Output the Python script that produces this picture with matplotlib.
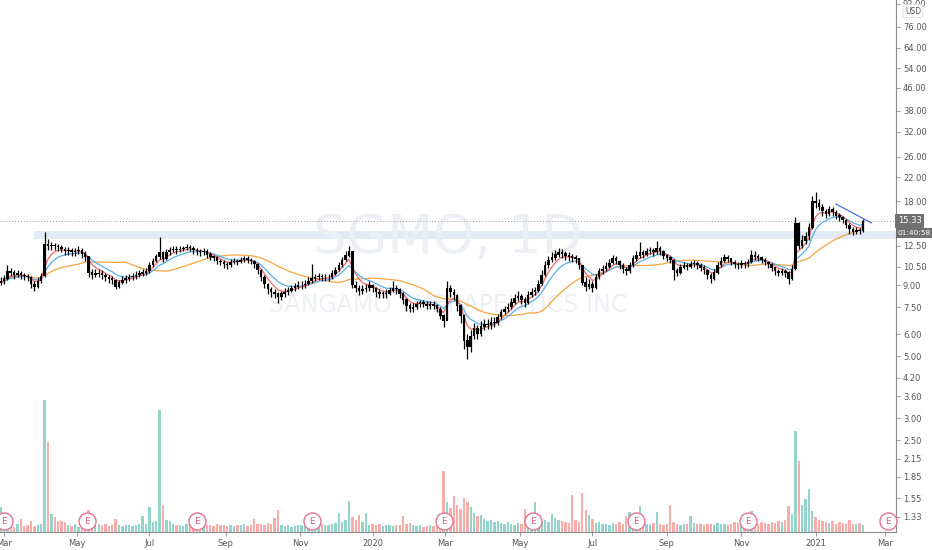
import numpy as np
import pandas as pd
import matplotlib
matplotlib.use("Agg")
import matplotlib.pyplot as plt
from matplotlib.transforms import blended_transform_factory

# SGMO daily chart at two-session resolution
start_day = "2019-02-25"

close = [
    9.2, 9.3, 9.5, 10.1, 10.0, 9.8, 9.9, 9.8, 9.7, 9.6,
    9.1, 8.9, 9.3, 9.7, 12.6, 12.5, 12.5, 12.4, 12.3, 12.1,
    11.9, 12.0, 11.8, 11.9, 12.0, 11.7, 11.4, 10.0, 9.8, 9.9,
    9.9, 9.8, 9.6, 9.5, 9.4, 8.9, 9.2, 9.4, 9.5, 9.6,
    9.7, 9.8, 9.9, 10.0, 10.1, 10.6, 11.0, 11.4, 11.8, 11.2,
    11.8, 12.0, 12.1, 12.0, 12.1, 12.2, 12.3, 12.2, 12.0, 11.9,
    11.8, 11.9, 11.6, 11.4, 11.3, 11.0, 10.9, 10.7, 10.6, 10.9,
    11.0, 10.9, 11.1, 11.2, 11.1, 11.0, 10.7, 10.2, 9.6, 9.1,
    8.7, 8.5, 8.4, 8.2, 8.4, 8.5, 8.6, 8.8, 8.9, 9.0,
    9.0, 9.1, 9.3, 9.5, 9.6, 9.7, 9.6, 9.6, 9.6, 9.9,
    10.2, 10.6, 11.1, 11.5, 11.9, 9.0, 8.8, 8.6, 8.7, 8.8,
    9.0, 8.8, 8.5, 8.4, 8.4, 8.4, 8.6, 8.8, 8.7, 8.4,
    8.0, 7.6, 7.4, 7.5, 7.7, 7.8, 7.7, 7.6, 7.7, 7.6,
    7.4, 7.0, 6.7, 8.8, 8.5, 8.3, 7.6, 7.0, 5.7, 5.4,
    5.9, 6.3, 6.0, 6.4, 6.5, 6.5, 6.6, 6.6, 6.9, 7.2,
    7.4, 7.5, 7.8, 8.1, 8.2, 8.0, 7.8, 8.3, 8.5, 8.6,
    9.1, 9.8, 10.6, 11.1, 11.3, 11.6, 11.8, 11.7, 11.5, 11.4,
    11.3, 11.2, 10.6, 9.2, 8.9, 9.1, 8.8, 9.6, 10.1, 10.3,
    10.5, 10.8, 11.2, 11.0, 10.6, 10.3, 10.1, 10.6, 11.2, 11.5,
    11.8, 11.6, 11.9, 12.0, 11.8, 12.2, 11.9, 11.5, 11.3, 11.1,
    10.2, 10.0, 10.4, 10.6, 10.5, 10.7, 10.8, 10.6, 10.4, 10.2,
    9.8, 9.5, 10.0, 10.6, 11.0, 11.3, 11.2, 10.9, 10.7, 10.6,
    10.8, 10.7, 10.9, 11.5, 11.4, 11.3, 11.1, 10.9, 10.7, 10.4,
    10.1, 10.0, 10.1, 10.0, 9.5, 10.3, 15.0, 12.5, 13.0, 13.5,
    14.5, 18.0, 17.8, 17.2, 16.6, 16.2, 16.8, 16.5, 16.0, 15.8,
    15.4, 14.8, 14.3, 14.0, 14.2, 14.1, 15.33,
]

high = [
    9.5, 9.6, 9.8, 10.6, 10.4, 10.2, 10.2, 10.1, 10.0, 9.9,
    9.7, 9.3, 9.6, 10.0, 14.0, 13.2, 12.9, 12.8, 12.7, 12.6,
    12.3, 12.3, 12.2, 12.2, 12.4, 12.2, 11.9, 11.5, 10.3, 10.3,
    10.3, 10.2, 10.0, 9.8, 9.7, 9.5, 9.4, 9.7, 9.8, 9.9,
    10.0, 10.1, 10.2, 10.3, 10.4, 10.9, 11.3, 11.7, 13.4, 11.9,
    12.1, 12.3, 12.4, 12.4, 12.4, 12.5, 12.7, 12.6, 12.4, 12.2,
    12.1, 12.2, 12.1, 11.8, 11.6, 11.5, 11.2, 11.1, 10.9, 11.2,
    11.3, 11.2, 11.4, 11.5, 11.5, 11.3, 11.1, 10.8, 10.3, 9.8,
    9.2, 8.9, 8.7, 8.5, 8.6, 8.8, 8.9, 9.0, 9.2, 9.3,
    9.3, 9.4, 9.6, 10.7, 9.9, 10.0, 9.9, 9.9, 9.9, 10.2,
    10.5, 10.9, 11.4, 11.9, 12.4, 11.4, 9.3, 9.0, 9.0, 9.1,
    9.3, 9.1, 8.9, 8.7, 8.6, 8.7, 8.9, 9.3, 9.0, 8.8,
    8.5, 8.1, 7.8, 7.8, 7.9, 8.0, 8.0, 7.9, 7.9, 7.9,
    7.7, 7.5, 7.1, 9.3, 9.0, 8.7, 8.4, 7.7, 7.1, 6.0,
    6.2, 6.6, 6.5, 6.7, 6.8, 6.8, 6.9, 6.9, 7.1, 7.4,
    7.6, 7.8, 8.1, 8.4, 8.6, 8.4, 8.2, 8.6, 8.8, 8.9,
    9.4, 10.2, 11.0, 11.5, 11.8, 12.0, 12.2, 12.1, 11.9, 11.8,
    11.7, 11.6, 11.3, 10.6, 9.6, 9.5, 9.3, 9.9, 10.4, 10.6,
    10.9, 11.2, 11.6, 11.5, 11.1, 10.8, 10.5, 10.9, 11.6, 11.9,
    12.9, 12.0, 12.2, 12.3, 12.2, 13.0, 12.4, 12.0, 11.7, 11.5,
    11.2, 10.4, 10.7, 10.9, 10.8, 11.0, 11.1, 11.0, 10.8, 10.6,
    10.3, 10.0, 10.3, 10.9, 11.4, 11.7, 11.6, 11.3, 11.1, 10.9,
    11.1, 11.0, 11.2, 12.0, 11.9, 11.7, 11.5, 11.3, 11.0, 10.8,
    10.5, 10.3, 10.4, 10.3, 10.1, 10.6, 15.8, 15.2, 13.6, 14.0,
    15.0, 18.8, 19.5, 18.3, 17.6, 16.9, 17.3, 17.2, 16.7, 16.3,
    16.0, 15.5, 15.0, 14.6, 14.6, 14.5, 15.5,
]

low = [
    8.9, 9.0, 9.1, 9.4, 9.7, 9.5, 9.6, 9.5, 9.4, 9.3,
    8.8, 8.6, 8.8, 9.2, 9.6, 12.0, 12.0, 12.0, 11.9, 11.8,
    11.6, 11.6, 11.5, 11.5, 11.7, 11.3, 11.0, 9.6, 9.5, 9.6,
    9.6, 9.5, 9.3, 9.2, 9.1, 8.7, 8.8, 9.1, 9.2, 9.3,
    9.4, 9.5, 9.6, 9.7, 9.8, 10.0, 10.5, 10.9, 11.2, 10.9,
    11.1, 11.6, 11.8, 11.7, 11.8, 11.9, 12.0, 11.9, 11.7, 11.6,
    11.5, 11.6, 11.3, 11.1, 11.0, 10.7, 10.6, 10.4, 10.3, 10.5,
    10.7, 10.6, 10.8, 10.9, 10.8, 10.7, 10.4, 9.9, 9.3, 8.8,
    8.4, 8.2, 8.1, 7.8, 8.0, 8.2, 8.3, 8.5, 8.6, 8.7,
    8.7, 8.8, 9.0, 9.2, 9.3, 9.4, 9.3, 9.3, 9.3, 9.5,
    9.8, 10.1, 10.5, 11.0, 11.4, 8.8, 8.5, 8.3, 8.4, 8.5,
    8.6, 8.5, 8.2, 8.1, 8.1, 8.1, 8.3, 8.5, 8.4, 8.1,
    7.7, 7.3, 7.2, 7.2, 7.4, 7.5, 7.5, 7.4, 7.4, 7.4,
    7.2, 6.8, 6.4, 6.8, 8.2, 8.0, 7.3, 6.6, 5.3, 4.9,
    5.2, 5.8, 5.8, 5.9, 6.2, 6.3, 6.3, 6.4, 6.5, 6.8,
    7.1, 7.2, 7.4, 7.7, 7.9, 7.7, 7.5, 7.7, 8.2, 8.3,
    8.5, 9.0, 9.7, 10.4, 10.9, 11.1, 11.4, 11.3, 11.1, 11.0,
    10.9, 10.8, 10.3, 9.0, 8.6, 8.7, 8.5, 8.7, 9.5, 9.9,
    10.1, 10.4, 10.7, 10.7, 10.3, 10.0, 9.8, 10.0, 10.5, 11.0,
    11.3, 11.3, 11.5, 11.7, 11.5, 11.7, 11.6, 11.2, 11.0, 10.8,
    9.4, 9.7, 9.9, 10.3, 10.2, 10.4, 10.5, 10.3, 10.1, 9.9,
    9.5, 9.2, 9.4, 9.9, 10.5, 10.9, 10.9, 10.6, 10.4, 10.3,
    10.4, 10.4, 10.5, 10.8, 11.1, 11.0, 10.8, 10.6, 10.4, 10.1,
    9.8, 9.7, 9.8, 9.6, 9.1, 9.4, 10.2, 12.1, 12.2, 12.7,
    13.1, 14.3, 17.0, 16.7, 16.0, 15.7, 16.0, 15.9, 15.5, 15.3,
    15.0, 14.4, 13.8, 13.6, 13.8, 13.7, 14.0,
]

# volume in millions of shares per bar
volume = [
    1.2, 4.2, 1.3, 1.1, 1.0, 0.9, 1.4, 2.2, 1.0, 1.1,
    1.8, 1.0, 1.2, 1.4, 22.0, 15.0, 3.0, 2.5, 1.8, 1.9,
    1.6, 1.2, 1.0, 1.3, 0.9, 1.1, 1.0, 3.7, 1.5, 1.2,
    1.4, 1.1, 1.3, 1.0, 1.2, 2.2, 1.1, 1.0, 1.2, 1.1,
    1.0, 1.1, 1.3, 2.7, 1.4, 4.2, 1.6, 1.9, 20.3, 4.5,
    2.0, 1.8, 1.3, 1.1, 1.2, 1.0, 1.4, 1.2, 1.1, 1.0,
    1.2, 1.3, 1.1, 1.2, 1.0, 1.3, 1.1, 1.2, 1.0, 1.1,
    1.0, 1.2, 1.1, 1.3, 1.0, 1.1, 2.2, 1.3, 1.4, 1.2,
    1.5, 1.3, 2.4, 3.7, 1.2, 1.0, 1.1, 0.9, 1.0, 1.1,
    1.2, 1.0, 1.1, 0.9, 1.0, 1.2, 1.3, 1.2, 1.1, 1.4,
    1.5, 3.2, 1.6, 2.0, 5.2, 2.5, 2.0, 2.8, 1.6, 3.2,
    1.2, 1.4, 1.1, 1.3, 1.0, 1.2, 1.1, 1.0, 1.2, 1.1,
    2.7, 1.3, 1.5, 1.2, 1.0, 1.1, 0.9, 1.0, 1.2, 1.0,
    1.1, 1.2, 10.2, 5.0, 4.0, 6.0, 4.5, 3.8, 5.7, 5.0,
    4.2, 3.2, 2.6, 2.8, 2.2, 1.8, 2.0, 1.6, 1.8, 1.5,
    1.3, 1.6, 1.4, 1.2, 1.5, 1.3, 3.8, 1.4, 1.8, 5.0,
    2.2, 1.8, 2.0, 1.6, 3.0, 2.4, 2.0, 1.8, 1.6, 1.5,
    6.2, 2.0, 1.6, 6.5, 3.6, 2.8, 2.2, 1.5, 1.6, 1.3,
    1.4, 1.2, 1.5, 1.3, 1.6, 1.4, 2.7, 3.3, 1.5, 1.4,
    4.3, 1.6, 1.4, 1.3, 1.5, 3.3, 1.4, 1.2, 1.3, 4.5,
    1.6, 1.3, 1.2, 1.4, 1.3, 2.7, 1.5, 1.3, 1.4, 1.2,
    1.3, 1.4, 1.2, 1.5, 1.4, 1.3, 1.2, 1.4, 1.6, 1.5,
    1.4, 1.6, 1.4, 3.5, 1.8, 1.4, 1.6, 1.5, 1.3, 1.7,
    1.5, 1.8, 1.6, 2.0, 4.3, 3.0, 16.8, 11.8, 4.5, 5.5,
    7.2, 3.5, 2.5, 2.0, 1.8, 1.6, 1.5, 1.8, 1.4, 1.6,
    1.5, 1.3, 2.0, 1.4, 1.3, 1.5, 1.2,
]

earnings_dates = ["2019-03-01", "2019-05-09", "2019-08-08", "2019-11-12", "2020-02-28",
                  "2020-05-13", "2020-08-06", "2020-11-06", "2021-03-03"]
month_starts = ["2019-03-01", "2019-05-01", "2019-07-01", "2019-09-02", "2019-11-01",
                "2020-01-01", "2020-03-02", "2020-05-01", "2020-07-01", "2020-09-01",
                "2020-11-02", "2021-01-01", "2021-03-01"]
month_labels = ["Mar", "May", "Jul", "Sep", "Nov", "2020", "Mar", "May", "Jul", "Sep",
                "Nov", "2021", "Mar"]
price_ticks = [1.33, 1.55, 1.85, 2.15, 2.50, 3.00, 3.60, 4.20, 5.00, 6.00, 7.50, 9.00,
               10.50, 12.50, 18.00, 22.00, 26.00, 32.00, 38.00, 46.00, 54.00, 64.00,
               76.00, 92.00]
last_price = 15.33
support_zone = (13.2, 14.1)
trend_line_dates = ["2021-01-19", "2021-02-17"]
trend_line_prices = [17.6, 15.06]

days = pd.bdate_range(start_day, "2021-03-31")
def day_pos(d):
    return days.searchsorted(pd.Timestamp(d))

n = len(close)
x = np.arange(n) * 2.0
c = np.array(close)
o = np.r_[c[0], c[:-1]]
hi = np.array(high)
lo = np.array(low)
vol = np.array(volume)

# moving averages (10d ema, 21d ema, 50d sma on two-session bars)
s = pd.Series(c)
ema_fast = s.ewm(span=5, adjust=False).mean()
ema_slow = s.ewm(span=10, adjust=False).mean()
sma_long = s.rolling(25, min_periods=1).mean()

fig = plt.figure(figsize=(9.32, 5.5), dpi=100)
ax = fig.add_axes([0, 18 / 550, 896 / 932, 532 / 550])
ax2 = ax.twinx()
ax.set_zorder(ax2.get_zorder() + 1)
ax.patch.set_visible(False)

# x scale: Mar 2019 at 4px, Mar 2021 at 885px
i0, i1 = day_pos(month_starts[0]), day_pos(month_starts[-1])
per_px = (i1 - i0) / (885 - 4)
ax.set_xlim(i0 - 4 * per_px, i0 + (896 - 4) * per_px)

# volume
up = c >= o
vcol = np.where(up, "#93d5cc", "#f7aeab")
ax2.bar(x, vol, width=1.4, color=vcol, linewidth=0)
ax2.set_ylim(0, 532 / 6)
ax2.axis("off")

# price
ax.set_yscale("log")
ax.set_ylim(1.174, 94.9)
ax.fill_between([22, ax.get_xlim()[1]], support_zone[0], support_zone[1], color="#e2eaf6", zorder=0, linewidth=0)
ax.axhline(last_price, color="#9a9a9a", lw=0.7, ls=(0, (1, 2)), zorder=1)

ax.plot(x, sma_long, color="#f7a541", lw=0.9, zorder=2)
ax.plot(x, ema_slow, color="#5aaeea", lw=0.9, zorder=2)
ax.plot(x, ema_fast, color="#ef6b6b", lw=0.9, zorder=2)

ax.vlines(x, lo, hi, color="black", lw=0.9, zorder=3)
ax.bar(x, np.abs(c - o) + 0.03, bottom=np.minimum(o, c), width=1.5, color="black", linewidth=0, zorder=3)

tl_x = [day_pos(d) for d in trend_line_dates]
ax.plot(tl_x, trend_line_prices, color="#4a6fd8", lw=0.9, zorder=4)

# watermark
ax.text(0.5, 0.553, "SGMO, 1D", transform=ax.transAxes, ha="center", va="center",
        fontsize=38, color="#eceff3", zorder=0, family="DejaVu Sans")
ax.text(0.5, 0.427, "SANGAMO THERAPEUTICS INC", transform=ax.transAxes, ha="center", va="center",
        fontsize=17, color="#eceff3", zorder=0, family="DejaVu Sans")

# earnings markers
tr = blended_transform_factory(ax.transData, ax.transAxes)
ex = [day_pos(d) for d in earnings_dates]
ax.scatter(ex, [11 / 532] * len(ex), s=150, facecolor="white", edgecolor="#e57390", lw=1.0,
           transform=tr, zorder=5, clip_on=False)
for e in ex:
    ax.text(e, 11 / 532, "E", transform=tr, ha="center", va="center", fontsize=6.5,
            color="#e0607e", zorder=6)

# axes styling
for sp in ["top", "left"]:
    ax.spines[sp].set_visible(False)
ax.spines["right"].set_color("#8c8c8c")
ax.spines["bottom"].set_color("#8c8c8c")
ax.spines["right"].set_linewidth(0.8)
ax.spines["bottom"].set_linewidth(0.8)

ax.yaxis.tick_right()
ax.set_yticks(price_ticks)
ax.set_yticklabels([f"{t:.2f}" for t in price_ticks])
ax.yaxis.set_minor_locator(matplotlib.ticker.NullLocator())
ax.tick_params(axis="y", length=3, width=0.6, color="#8c8c8c", labelsize=6, labelcolor="#555555", pad=2)

ax.set_xticks([day_pos(d) for d in month_starts])
ax.set_xticklabels(month_labels)
ax.tick_params(axis="x", length=3, width=0.6, color="#8c8c8c", labelsize=6, labelcolor="#555555", pad=2)

ytr = ax.get_yaxis_transform()
ax.text(1.002, last_price, "15.33", transform=ytr, ha="left", va="center", fontsize=6, color="white",
        bbox=dict(boxstyle="square,pad=0.3", fc="#707070", ec="none"), zorder=10, clip_on=False)
ax.annotate("01:40:58", xy=(1.0, last_price), xycoords=ytr, xytext=(1.0, -9), textcoords="offset points",
            ha="left", va="center", fontsize=5.3, color="white",
            bbox=dict(boxstyle="square,pad=0.25", fc="#707070", ec="none"), zorder=10)
fig.text(913 / 932, 1 - 11 / 550, "USD", ha="center", va="center", fontsize=5.5, color="#555555",
         bbox=dict(boxstyle="round,pad=0.25", fc="white", ec="#dddddd", lw=0.6))

fig.savefig("out.png", dpi=100, facecolor="white")
